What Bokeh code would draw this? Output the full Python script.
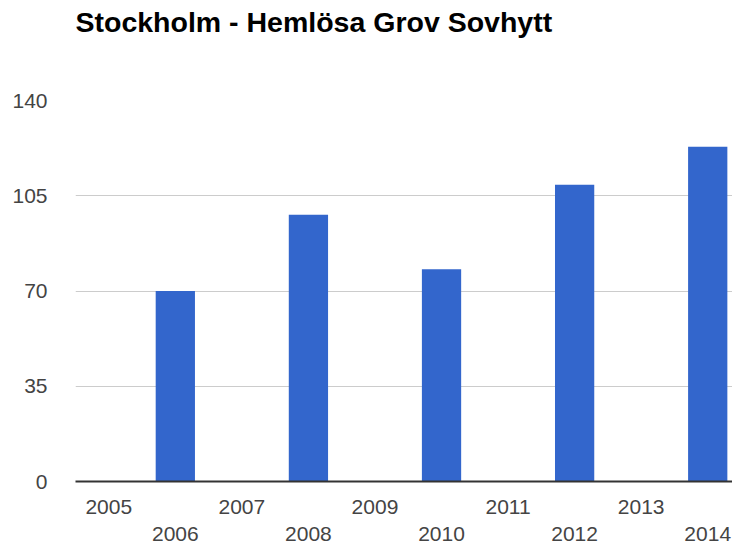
from bokeh.plotting import figure
from bokeh.models import Range1d, FixedTicker, LinearAxis
from bokeh.embed import file_html
from bokeh.resources import INLINE

# Data
title_text = "Stockholm - Hemlösa Grov Sovhytt"
all_years = [2005, 2006, 2007, 2008, 2009, 2010, 2011, 2012, 2013, 2014]
bar_years = [2006, 2008, 2010, 2012, 2014]
counts = [70, 98, 78, 109, 123]
y_ticks = [0, 35, 70, 105, 140]

FONT = "Liberation Sans"
LABEL_COLOR = "#444444"
W, H = 732, 549

frame_left = 75
frame_w = W - frame_left
band_px = 66.55
x_start = all_years[0] - 0.5
x_end = x_start + frame_w / band_px

p = figure(width=W, height=H, output_backend="svg", toolbar_location=None,
           x_range=Range1d(x_start, x_end), y_range=Range1d(0, 140),
           min_border_left=frame_left, min_border_right=0,
           min_border_top=100, min_border_bottom=68,
           x_axis_location=None, y_axis_location="left")
p.outline_line_color = None
p.background_fill_color = "white"
p.border_fill_color = "white"

p.vbar(x=bar_years, top=counts, width=0.59, bottom=0,
       fill_color="#3366cc", line_color=None)

# Title: two trailing empty lines push the visible line towards the top edge
p.title.text = title_text + "\n\n"
p.title.text_font = FONT
p.title.text_font_size = "28.5px"
p.title.text_font_style = "bold"
p.title.text_color = "#000000"
p.title.text_line_height = 0.91
p.title.align = "left"
p.title.vertical_align = "top"
p.title.standoff = 6

# Y axis
yax = p.yaxis[0]
yax.ticker = FixedTicker(ticks=y_ticks)
yax.axis_line_color = None
yax.major_tick_line_color = None
yax.minor_tick_line_color = None
yax.major_label_text_font = FONT
yax.major_label_text_font_size = "21px"
yax.major_label_text_color = LABEL_COLOR
yax.major_label_standoff = 22

p.ygrid.ticker = FixedTicker(ticks=y_ticks)
p.ygrid.grid_line_color = "#cccccc"
p.ygrid.grid_line_width = 1
p.xgrid.grid_line_color = None

# X axes (two alternating rows)
odd = [y for y in all_years if (y - all_years[0]) % 2 == 0]
even = [y for y in all_years if (y - all_years[0]) % 2 == 1]

xa1 = LinearAxis(ticker=FixedTicker(ticks=odd),
                 major_label_overrides={y: str(y) for y in odd})
xa1.axis_line_color = "#333333"
xa1.axis_line_width = 2
xa1.major_tick_line_color = None
xa1.minor_tick_line_color = None
xa1.major_label_text_font = FONT
xa1.major_label_text_font_size = "21px"
xa1.major_label_text_color = LABEL_COLOR
xa1.major_label_standoff = 12
p.add_layout(xa1, "below")

xa2 = LinearAxis(ticker=FixedTicker(ticks=even),
                 major_label_overrides={y: str(y) for y in even})
xa2.axis_line_color = None
xa2.major_tick_line_color = None
xa2.minor_tick_line_color = None
xa2.major_label_text_font = FONT
xa2.major_label_text_font_size = "21px"
xa2.major_label_text_color = LABEL_COLOR
xa2.major_label_standoff = 4
p.add_layout(xa2, "below")

open("out.html", "w").write(file_html(p, INLINE))
